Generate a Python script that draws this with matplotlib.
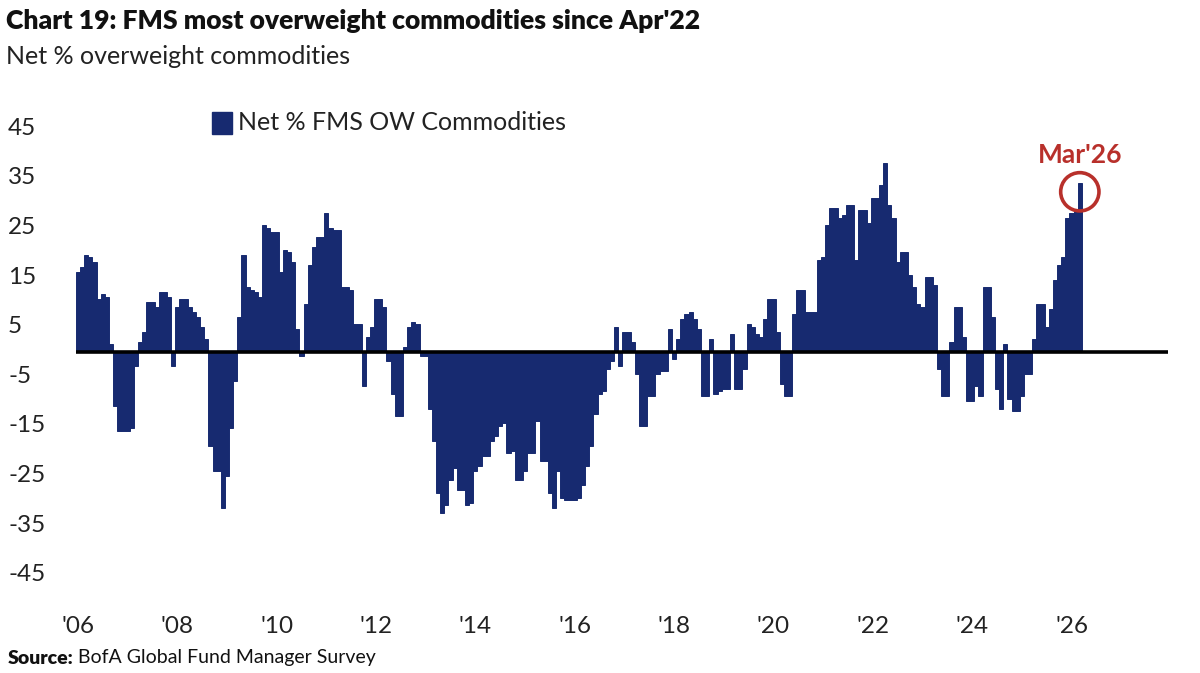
import numpy as np
import matplotlib
matplotlib.use("Agg")
import matplotlib.pyplot as plt
from matplotlib import transforms
from matplotlib.patches import Rectangle

plt.rcParams['font.family'] = ['Lato', 'DejaVu Sans']

# monthly net % overweight commodities, Jan 2006 .. Mar 2026
values = [
    16, 17, 19.5, 19, 18, 10.5, 11.5, 11, 1.5, -11, -16, -16,            # 2006
    -16, -15.5, -3, 2, 4, 10, 10, 9, 12, 12, 11, -3,                     # 2007
    9, 10.5, 10.5, 9, 8, 7, 5, 2.5, -19, -24, -24, -31.5,                # 2008
    -25, -15.5, -6, 7, 19.5, 13, 12.5, 12, 11, 25.5, 25, 24,             # 2009
    24, 16, 20.5, 20, 18, 4.5, -1, 9.5, 17.5, 21, 23, 23,                # 2010
    28, 25, 24.5, 24.5, 13, 13, 12.5, 5.5, 5.5, -7, 3, 5,                # 2011
    10.5, 10.5, 9, -2, -8.5, -13, -13, 1, 5, 6, 5.5, -1,                 # 2012
    -1, -11.5, -18, -28.5, -32.5, -31, -26, -23.5, -28, -28, -31, -30.5, # 2013
    -24, -23, -21, -21, -18, -17, -15, -14.5, -20.5, -20, -26, -26,      # 2014
    -24, -20.5, -20.5, -14, -22, -22, -28.5, -31.5, -24, -29.5, -30, -30,# 2015
    -30, -29.5, -27, -23, -19, -12.5, -8.5, -8, -3.5, -2, 5, -3,         # 2016
    4, 4, 2, -4.5, -15, -15, -9, -9, -4.5, -4, -4, 4.5,                  # 2017
    -1.5, 2.5, 6.5, 7.5, 8, 6.5, 4.5, -9, -9, 2.5, -8.5, -8,             # 2018
    -7.5, -7.5, 3.5, -7.5, -7.5, -3.5, 5.5, 5, 3.5, 3, 6.5, 10.5,        # 2019
    10.5, 4, -6.5, -9, -9, 7.5, 12.5, 12.5, 8, 8, 8, 18.5,               # 2020
    19, 25.5, 29, 29, 27, 27.5, 29.5, 29.5, 18.5, 28.5, 28.5, 26,        # 2021
    31, 31, 33.5, 38, 29.5, 27, 18, 20, 20, 15.5, 13, 9.5,               # 2022
    9, 15, 15, 13.5, -3.5, -9, -9, 2, 9, 9, 3, -10,                      # 2023
    -10, -7, -9, 13, 13, 7, -7.5, -11.5, 1.5, -9.5, -12, -12,            # 2024
    -9, -4.5, -4.5, 2.5, 9.5, 9.5, 5, 8.5, 14.5, 17.5, 19, 27,           # 2025
    28, 28.5, 34,                                                        # 2026
]
year_labels = ["'06", "'08", "'10", "'12", "'14", "'16", "'18", "'20", "'22", "'24", "'26"]
y_ticks = [45, 35, 25, 15, 5, -5, -15, -25, -35, -45]

navy = '#172a70'
red = '#b8302b'
txt = '#222222'

fig = plt.figure(figsize=(12, 6.73), dpi=100)
ax = fig.add_axes([75.9 / 1200, 0.1092, (1168 - 75.9) / 1200, 0.8462 - 0.1092])

x = np.arange(len(values))
ax.bar(x, values, width=1.0, color=navy, edgecolor=navy, linewidth=0.7)
ax.axhline(0, color='black', lw=2.6, zorder=3)

ax.set_xlim(-0.5, 263.3)
ax.set_ylim(-50, 50)
for s in ax.spines.values():
    s.set_visible(False)
ax.set_yticks([])
ax.set_xticks(np.arange(0, len(values), 24))
ax.set_xticklabels(year_labels, fontsize=17.5, color=txt)
ax.tick_params(axis='x', length=0, pad=12)

trans = transforms.blended_transform_factory(fig.transFigure, ax.transData)
for v in y_ticks:
    ax.text(8 / 1200, v, str(v), transform=trans, ha='left', va='center',
            fontsize=17.5, color=txt)

# highlight last point
last = len(values) - 1
ax.scatter([last], [values[last] - 1.8], s=760, facecolors='none',
           edgecolors=red, linewidths=2.6, zorder=5)
ax.text(last, 39.6, "Mar'26", color=red, fontsize=19, fontweight='bold',
        ha='center', va='center')

# legend
fig.patches.append(Rectangle((212 / 1200, 1 - 134 / 673), 20 / 1200, 22 / 673,
                             transform=fig.transFigure, color=navy))
fig.text(238 / 1200, 1 - 123 / 673, 'Net % FMS OW Commodities', fontsize=18,
         va='center', ha='left', color=txt)

fig.text(6 / 1200, 1 - 21 / 673, "Chart 19: FMS most overweight commodities since Apr'22",
         fontsize=19.1, fontweight='heavy', va='center', ha='left', color='#111111')
fig.text(6 / 1200, 1 - 57 / 673, 'Net % overweight commodities', fontsize=18,
         va='center', ha='left', color=txt)

src = fig.text(8 / 1200, 1 - 658 / 673, 'Source:', fontsize=14, fontweight='heavy',
               va='center', ha='left', color='#111111')
fig.canvas.draw()
bb = src.get_window_extent()
fig.text((bb.x1 + 4) / 1200, 1 - 658 / 673, 'BofA Global Fund Manager Survey',
         fontsize=14, va='center', ha='left', color='#111111')

fig.savefig('out.png', dpi=100, facecolor='white')
